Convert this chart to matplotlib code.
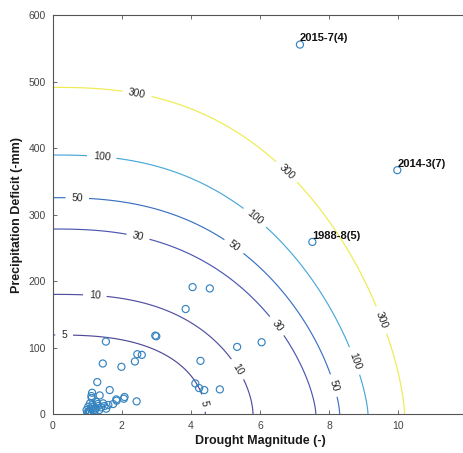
import numpy as np
import matplotlib
matplotlib.use("Agg")
import matplotlib.pyplot as plt

plt.rcParams['font.family'] = ['Liberation Sans', 'DejaVu Sans']

# return period contours: intercepts on both axes and curve shape
periods = [5, 10, 30, 50, 100, 300]
x_int = [4.42, 5.80, 7.62, 8.31, 9.13, 10.19]
y_int = [118.9, 180.0, 278.4, 325.6, 389.8, 491.6]
px = [2.7, 2.7, 2.5, 2.5, 2.5, 2.5]
py = [2.0, 1.7, 1.5, 1.5, 1.45, 1.5]
colors = ['#4e4b98', '#5150a0', '#4b58b0', '#3a72c2', '#4aa8d8', '#efeb50']
label_pos = [
    [(0.33, 117), (4.33, 16)],
    [(1.22, 178), (5.37, 68)],
    [(2.48, 269), (6.53, 134)],
    [(0.71, 325), (5.22, 250), (8.22, 44)],
    [(1.42, 387), (5.80, 292), (8.80, 81)],
    [(2.45, 484), (6.63, 357), (9.55, 142)],
]

# drought events
magnitude = [7.16, 9.98, 7.52, 4.05, 4.55, 3.85, 2.97, 3.00, 1.54, 2.45,
             2.58, 2.38, 1.45, 1.99, 4.28, 6.05, 5.34, 1.29, 1.65, 2.06,
             2.43, 4.13, 4.24, 4.39, 4.84, 1.85, 1.75, 1.14, 1.36, 1.12,
             1.13, 1.27, 1.46, 1.61, 1.03, 1.17, 1.32, 0.98, 1.08, 1.22,
             1.03, 1.13, 1.08, 1.05, 1.10, 1.20, 1.25, 1.35, 1.40, 1.15,
             1.30, 1.50, 1.55, 1.00, 2.08, 1.84]
deficit = [556, 367, 259, 191, 189, 158, 118, 117, 109, 90,
           89, 79, 76, 71, 80, 108, 101, 48, 36, 23,
           19, 46, 39, 36, 37, 20, 15, 32, 28, 27,
           24, 18, 16, 13.5, 11, 11, 12, 6, 3.5, 6,
           1, 0, 16, 4, 8, 2, 9, 6, 10, 14,
           15, 12, 8, 2, 25.6, 22]
events = ['2015-7(4)', '2014-3(7)', '1988-8(5)']

fig = plt.figure(figsize=(4.64, 4.53), dpi=100)
ax = fig.add_axes([0.1136, 0.0861, 0.893, 0.880])

xg = np.linspace(0, 12, 700)
yg = np.linspace(0, 600, 700)
X, Y = np.meshgrid(xg, yg)
for i in range(len(periods)):
    G = (X / x_int[i]) ** px[i] + (Y / y_int[i]) ** py[i]
    cs = ax.contour(X, Y, G, levels=[1.0], colors=[colors[i]], linewidths=0.85)
    lab = str(periods[i])
    ax.clabel(cs, fmt=lambda v, lab=lab: lab, manual=label_pos[i], inline=True,
              inline_spacing=6, fontsize=7.5, colors='#262626')

ax.scatter(magnitude, deficit, s=26, facecolors='none', edgecolors='#3584c0',
           linewidths=0.85, zorder=3)
for i in range(len(events)):
    ax.annotate(events[i], (magnitude[i], deficit[i]), xytext=(0, 1),
                textcoords='offset points', ha='left', va='bottom',
                fontsize=8, fontweight='bold', color='#111111')

ax.set_xlim(0, 12)
ax.set_ylim(0, 600)
ax.set_xticks([0, 2, 4, 6, 8, 10])
ax.set_yticks([0, 100, 200, 300, 400, 500, 600])
ax.tick_params(direction='in', length=3, width=0.6, top=True, right=True,
               labelsize=7.5, labelcolor='#444444', color='#555555', pad=5)
for s in ax.spines.values():
    s.set_color('#555555')
    s.set_linewidth(0.8)
ax.set_xlabel('Drought Magnitude (-)', fontsize=9, fontweight='bold',
              color='#1a1a1a', labelpad=3)
ax.set_ylabel('Precipitation Deficit (-mm)', fontsize=9, fontweight='bold',
              color='#1a1a1a', labelpad=4)

fig.savefig('out.png', dpi=100)
